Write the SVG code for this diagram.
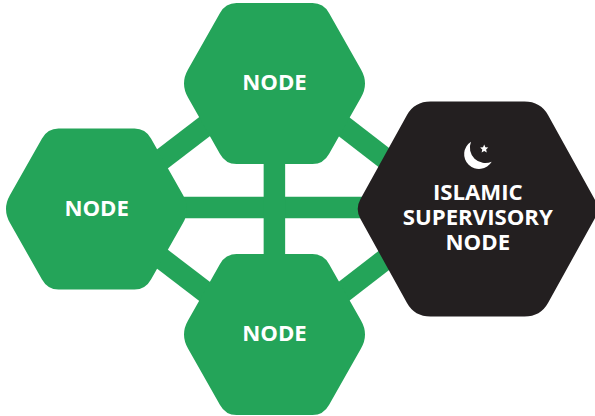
<svg xmlns="http://www.w3.org/2000/svg" width="595" height="416" viewBox="0 0 595 416">
<style>
.g{fill:#24a459}
.k{fill:#231f20}
.l{font-family:"Open Sans","Liberation Sans",sans-serif;font-weight:700;font-size:22.2px;fill:#fff;text-anchor:middle}
.c{stroke:#24a459;stroke-width:21.5;fill:none}
</style>
<defs>
<path id="hex" d="M-38,-80.5 H38 Q49,-80.5 54.5,-70.5 L86.5,-14 Q94.5,0 86.5,14 L54.5,70.5 Q49,80.5 38,80.5 H-38 Q-49,80.5 -54.5,70.5 L-86.5,14 Q-94.5,0 -86.5,-14 L-54.5,-70.5 Q-49,-80.5 -38,-80.5 Z"/>
</defs>
<rect width="595" height="416" fill="#fff"/>
<g id="connectors">
<path class="c" d="M150,168.4 L215,118.6"/>
<path class="c" d="M150,249.6 L215,299.4"/>
<path class="c" d="M334,119 L400,170"/>
<path class="c" d="M334,299 L400,248"/>
<path class="c" d="M150,207.5 H400"/>
<path class="c" d="M274.4,120 V290"/>
</g>
<g id="node-top">
<use href="#hex" class="g" transform="translate(274.5,83.5)"/>
<text class="l" x="274.5" y="90">NODE</text>
</g>
<g id="node-left">
<use href="#hex" class="g" transform="translate(96.5,209)"/>
<text class="l" x="96.7" y="216">NODE</text>
</g>
<g id="node-bottom">
<use href="#hex" class="g" transform="translate(274.5,334.5)"/>
<text class="l" x="274.5" y="341">NODE</text>
</g>
<g id="node-supervisory">
<path class="k" transform="translate(477.5,209)" d="M-47,-107.5 H47 Q63,-107.5 70.5,-94 L117,-10 Q122.6,0 117,10 L70.5,94 Q63,107.5 47,107.5 H-47 Q-63,107.5 -70.5,94 L-117,10 Q-122.6,0 -117,-10 L-70.5,-94 Q-63,-107.5 -47,-107.5 Z"/>
<path fill="#fff" d="M471,141.7 A14.8 14.8 0 1 0 491.7,161.7 A15.5 15.5 0 0 1 471,141.7 Z"/>
<polygon fill="#fff" points="484.2,144.6 485.4,147.3 488.3,147.6 486.1,149.6 486.8,152.6 484.2,151 481.6,152.6 482.3,149.6 480.1,147.6 483,147.3"/>
<text class="l" x="477.8" y="200">ISLAMIC</text>
<text class="l" x="477.8" y="225">SUPERVISORY</text>
<text class="l" x="477.8" y="250">NODE</text>
</g>
</svg>
